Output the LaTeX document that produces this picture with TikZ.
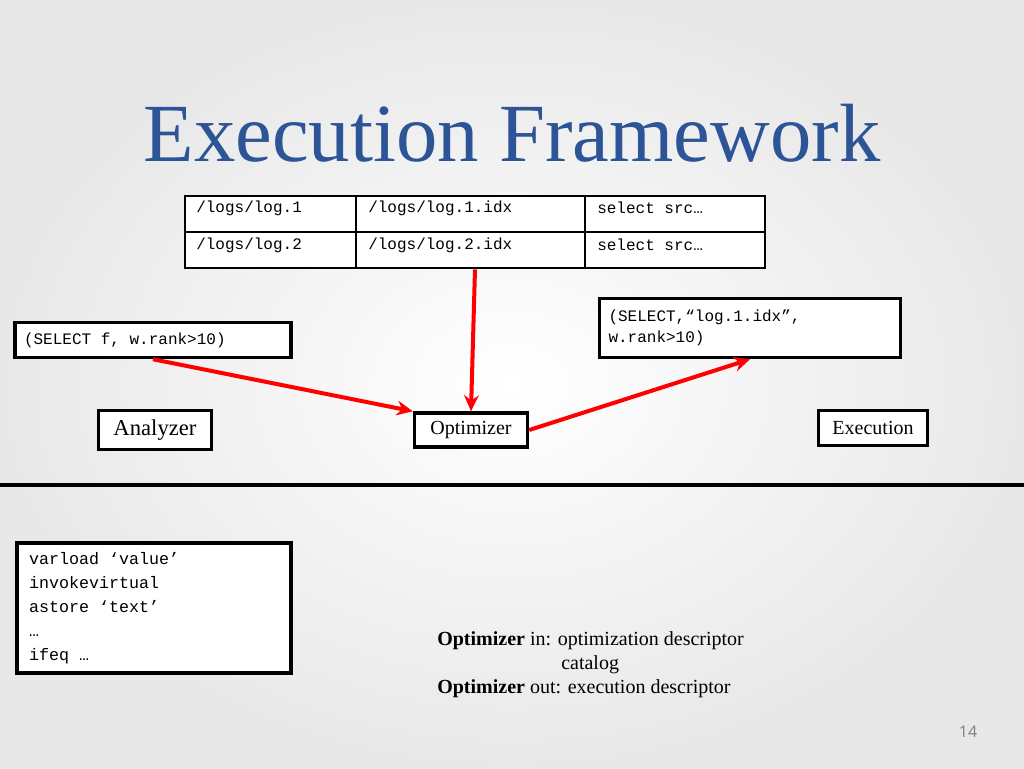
\documentclass[tikz,border=0pt]{standalone}
\usepackage{fontspec}
\setmainfont{Liberation Serif}
\setmonofont{Liberation Mono}
\setsansfont{Open Sans}
\usetikzlibrary{positioning, calc, arrows.meta}
\newcommand{\tsp}{\hspace*{0.6em}}

\begin{document}
\begin{tikzpicture}[
    x=0.75pt, y=-0.75pt,
    box/.style={rectangle, draw, line width=2.6pt, inner sep=4pt},
    code/.style={font=\ttfamily\fontsize{12}{15}\selectfont, anchor=west, inner sep=0pt},
    label/.style={font=\fontsize{15}{18}\selectfont},
    flow/.style={-{Stealth[length=12pt, width=11pt]}, draw=red, line width=3pt}
]
\useasboundingbox (0,0) rectangle (1024,768);
\shade[inner color=white, outer color=gray!18] (0,0) rectangle (1024,768);

% Title
\node[font=\fontsize{62}{68}\selectfont, text={rgb,255:red,44;green,84;blue,150}] (title) at (512,133) {Execution Framework};

% Table of logs
\node[draw, line width=2pt, fill=white, minimum width=580*0.75pt, minimum height=72*0.75pt, inner sep=0pt] (tbl) at (475,232) {};
\draw[line width=0.8pt] (tbl.west) -- (tbl.east);
\draw[line width=0.8pt] (356,196) -- (356,268);
\draw[line width=0.8pt] (585,196) -- (585,268);
\node[code] (c11) at (196,208) {/logs/log.1};
\node[code] (c12) at (368,208) {/logs/log.1.idx};
\node[code] (c13) at (597,208) {select src…};
\node[code] (c21) at (196,245) {/logs/log.2};
\node[code] (c22) at (368,245) {/logs/log.2.idx};
\node[code] (c23) at (597,245) {select src…};

% Queries
\node[box, fill=white, minimum width=276*0.75pt, minimum height=35*0.75pt, font=\ttfamily\fontsize{12}{15}\selectfont, align=left, text width=258*0.75pt] (query) at (153,340) {(SELECT\tsp f,\tsp w.rank>10)};
\node[box, fill=white, minimum width=301*0.75pt, minimum height=59*0.75pt, font=\ttfamily\fontsize{12}{16}\selectfont, align=left, text width=283*0.75pt] (plan) at (750,328) {(SELECT,“log.1.idx”,\\w.rank>10)};

% Stages
\node[box, fill=white, minimum width=113*0.75pt, minimum height=39*0.75pt, font=\fontsize{17}{20}\selectfont] (analyzer) at (155,430) {Analyzer};
\node[box, fill=white, minimum width=113*0.75pt, minimum height=34*0.75pt, label] (optimizer) at (471,430) {Optimizer};
\node[box, fill=white, minimum width=109*0.75pt, minimum height=35*0.75pt, label] (execution) at (873,428) {Execution};

% Arrows
\draw[flow] (query.south) -- (optimizer.north west);
\draw[flow] (tbl.south) -- (optimizer.north);
\draw[flow] (optimizer.east) -- (plan.south);

% Divider
\draw[line width=2.5pt] (0,485) -- (1024,485);

% Bytecode
\node[box, fill=white, minimum width=274*0.75pt, minimum height=130*0.75pt, font=\ttfamily\fontsize{12.5}{18}\selectfont, align=left, text width=250*0.75pt] (bytecode) at (154,608) {varload\tsp‘value’\\invokevirtual\\astore\tsp‘text’\\…\\ifeq\tsp…};

% Notes
\node[label, anchor=west, inner sep=0pt] (note1) at (437,641) {\textbf{Optimizer} in: optimization descriptor};
\node[label, anchor=west, inner sep=0pt] (note2) at (561,665) {catalog};
\node[label, anchor=west, inner sep=0pt] (note3) at (437,689) {\textbf{Optimizer} out: execution descriptor};

\node[font=\sffamily\fontsize{12}{14}\selectfont, text=gray] (page) at (968,732) {14};
\end{tikzpicture}
\end{document}
